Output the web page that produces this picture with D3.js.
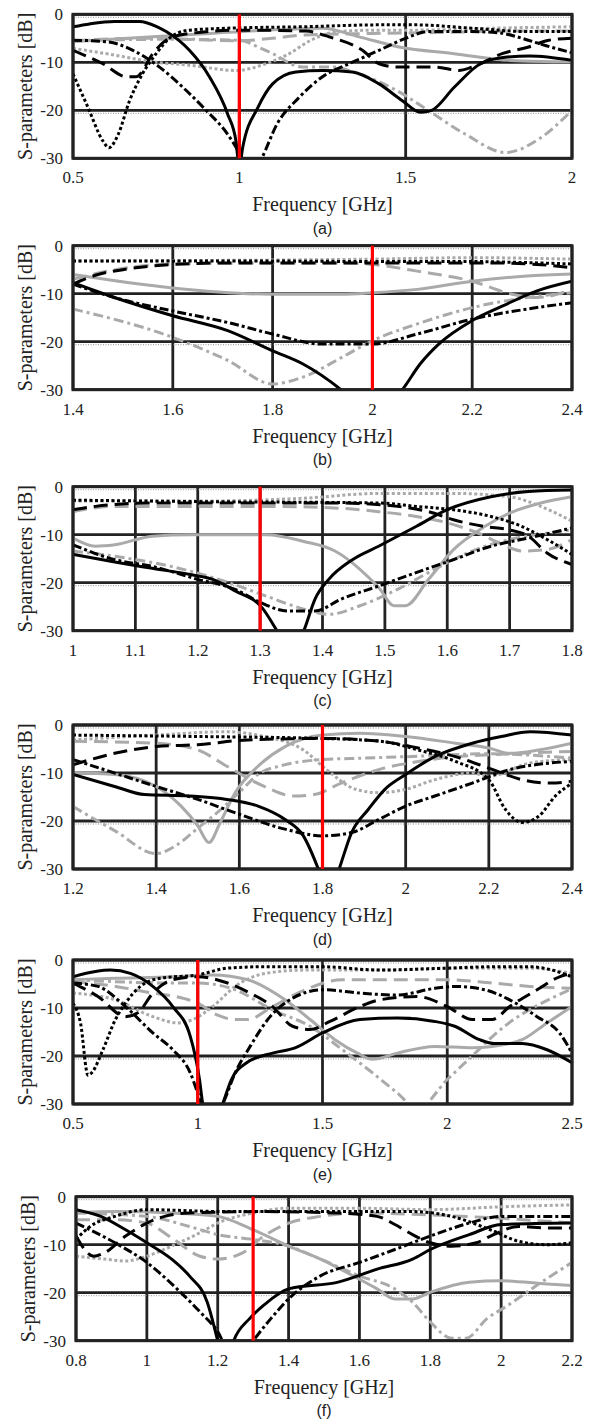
<!DOCTYPE html>
<html>
<head>
<meta charset="utf-8">
<script src="https://cdn.jsdelivr.net/npm/d3@7"></script>
<style>
body { margin: 0; background: #fff; }
</style>
</head>
<body>
<div id="chart"></div>
<script>
// ---- data, frequency in GHz, S-parameters in dB ----
var captions = ['(a)', '(b)', '(c)', '(d)', '(e)', '(f)'];
var xDomains = [[0.5, 2], [1.4, 2.4], [1, 1.8], [1.2, 2.4], [0.5, 2.5], [0.8, 2.2]];
var xTicks = [
    [0.5, 1, 1.5, 2],
    [1.4, 1.6, 1.8, 2, 2.2, 2.4],
    [1, 1.1, 1.2, 1.3, 1.4, 1.5, 1.6, 1.7, 1.8],
    [1.2, 1.4, 1.6, 1.8, 2, 2.2, 2.4],
    [0.5, 1, 1.5, 2, 2.5],
    [0.8, 1, 1.2, 1.4, 1.6, 1.8, 2, 2.2]
];
var yTicks = [0, -10, -20, -30];
var centerFreqs = [1.0, 2.0, 1.3, 1.8, 1.0, 1.3];

// panel (a)
var aBlackSolid = [[0.5,-2.6],[0.55,-2],[0.625,-1.5],[0.7,-1.5],[0.75,-2.5],[0.78,-3.6],[0.85,-7.5],[0.91,-13],[0.965,-20.8],[0.99,-26.5],[1.0,-32],[1.01,-27.8],[1.056,-19.4],[1.1,-14.5],[1.17,-12],[1.25,-11.7],[1.34,-12],[1.42,-14.5],[1.49,-18],[1.544,-20.4],[1.578,-20],[1.646,-15.2],[1.725,-10.3],[1.805,-8.9],[1.873,-8.7],[2.0,-9.6]];
var aBlackDashDot = [[0.5,-5.4],[0.6,-5.7],[0.68,-7.5],[0.76,-11],[0.83,-15.2],[0.9,-20],[0.965,-25],[1.0,-29],[1.03,-34],[1.067,-30],[1.113,-22.9],[1.18,-17.3],[1.25,-13],[1.33,-10.3],[1.42,-7.5],[1.5,-5],[1.567,-3.6],[1.7,-3.6],[1.785,-3.9],[1.85,-5],[1.92,-6.5],[2.0,-8]];
var aBlackDash = [[0.5,-7.5],[0.59,-10.3],[0.66,-13],[0.69,-13],[0.74,-8.2],[0.78,-5.4],[0.85,-4],[1.0,-3.3],[1.2,-3.5],[1.27,-4.7],[1.37,-7.5],[1.42,-10.3],[1.48,-11],[1.59,-11],[1.66,-11.7],[1.7,-11],[1.79,-8.2],[1.87,-6.8],[1.93,-5.4],[2.0,-5]];
var aBlackDot = [[0.5,-12.4],[0.545,-19.4],[0.59,-26.4],[0.608,-27.8],[0.636,-25],[0.67,-18],[0.704,-13],[0.75,-8.2],[0.795,-4.7],[0.85,-3.3],[0.965,-2.9],[1.19,-2.6],[1.42,-2.2],[1.53,-2.2],[1.7,-2.9],[1.87,-3.6],[2.0,-3.6]];
var aGreySolid = [[0.5,-5.7],[0.74,-4.7],[0.91,-4],[1.08,-3.3],[1.25,-2.9],[1.36,-4.7],[1.48,-6.8],[1.646,-8.2],[1.816,-9.6],[2.0,-9.9]];
var aGreyDashDot = [[0.5,-5.5],[0.8,-5.2],[1.0,-5.4],[1.056,-6.8],[1.1,-8.2],[1.19,-11],[1.28,-11],[1.36,-12.4],[1.476,-16],[1.567,-20],[1.68,-25],[1.8,-28.8],[1.9,-26],[2.0,-20]];
var aGreyDash = [[0.5,-5.5],[0.7,-5],[1.0,-5.5],[1.1,-5],[1.2,-4.3],[1.4,-4],[1.6,-3.8],[1.8,-3.5],[2.0,-3.5]];
var aGreyDot = [[0.5,-7.1],[0.625,-8.5],[0.74,-9.9],[0.85,-10.6],[0.99,-11.7],[1.08,-10.3],[1.15,-8.2],[1.215,-5.4],[1.3,-3.6],[1.42,-3.3],[1.53,-3.3],[1.76,-2.9],[2.0,-2.6]];

// panel (b)
var bBlackSolid = [[1.4,-7.7],[1.483,-10.8],[1.6,-14.6],[1.71,-17.7],[1.8,-21.9],[1.86,-24.6],[1.937,-30],[2.0,-36],[2.06,-30],[2.096,-24.6],[2.134,-20.4],[2.2,-15.6],[2.26,-12.6],[2.33,-9.4],[2.4,-7.4]];
var bBlackDashDot = [[1.4,-8],[1.483,-10.8],[1.6,-13.6],[1.71,-16],[1.8,-18.4],[1.9,-20.5],[2.0,-20.5],[2.09,-18.4],[2.2,-15.3],[2.31,-13.2],[2.4,-11.9]];
var bBlackDash = [[1.4,-8],[1.45,-6],[1.5,-5],[1.6,-3.9],[1.71,-3.6],[1.94,-3.6],[2.1,-3.6],[2.24,-3.6],[2.33,-3.9],[2.4,-4.6]];
var bBlackDot = [[1.4,-3.2],[1.6,-3.2],[1.8,-3.2],[2.0,-3.3],[2.2,-3.3],[2.3,-3.5],[2.4,-3.8]];
var bGreySolid = [[1.4,-6],[1.6,-8.8],[1.8,-10.1],[1.94,-10.1],[2.0,-9.8],[2.09,-9.1],[2.2,-7.4],[2.31,-6.3],[2.4,-5.9]];
var bGreyDashDot = [[1.4,-13.2],[1.6,-19.1],[1.71,-23.9],[1.8,-28.8],[1.86,-27.4],[1.94,-23.2],[2.0,-19.8],[2.09,-16.3],[2.2,-12.9],[2.31,-10.8],[2.4,-9.8]];
var bGreyDash = [[1.4,-7],[1.47,-5.3],[1.6,-3.8],[1.8,-3.6],[1.95,-3.6],[2.0,-3.9],[2.09,-5.3],[2.2,-7.4],[2.28,-10.1],[2.33,-10.8],[2.4,-9.1]];
var bGreyDot = [[1.4,-3.2],[1.6,-3.1],[1.8,-3],[2.0,-2.8],[2.2,-2.5],[2.4,-2.8]];

// panel (c)
var cBlackSolid = [[1.0,-14.1],[1.067,-15.7],[1.127,-17],[1.188,-18.3],[1.224,-19.3],[1.26,-21.7],[1.303,-25.2],[1.327,-30],[1.35,-35],[1.37,-30],[1.388,-23.4],[1.41,-19.3],[1.448,-15.2],[1.49,-12.4],[1.55,-8.3],[1.6,-4.8],[1.67,-2.1],[1.73,-1],[1.8,-0.7]];
var cBlackDashDot = [[1.0,-12.1],[1.067,-15.2],[1.127,-16.6],[1.2,-19.3],[1.26,-21.4],[1.3,-24.1],[1.345,-25.9],[1.388,-25.9],[1.43,-23.4],[1.49,-20.7],[1.55,-17.9],[1.61,-15.2],[1.67,-12.4],[1.73,-10.7],[1.8,-8.6]];
var cBlackDash = [[1.0,-4.8],[1.036,-4.1],[1.127,-3.4],[1.43,-3.4],[1.52,-4.1],[1.57,-5.2],[1.61,-6.9],[1.66,-8.3],[1.7,-9],[1.73,-10.3],[1.76,-13.8],[1.8,-16.2]];
var cBlackDot = [[1.0,-2.8],[1.2,-3.1],[1.49,-3.4],[1.55,-4.1],[1.61,-4.8],[1.67,-6.2],[1.72,-8.3],[1.76,-11],[1.8,-14.1]];
var cGreySolid = [[1.0,-10.7],[1.036,-12.4],[1.067,-12.1],[1.127,-10.3],[1.19,-10],[1.31,-10],[1.37,-11.4],[1.42,-13.4],[1.46,-17.2],[1.49,-21],[1.515,-24.8],[1.533,-24.8],[1.57,-19.3],[1.61,-13.1],[1.66,-8.3],[1.7,-5.5],[1.75,-3.4],[1.8,-2.1]];
var cGreyDashDot = [[1.0,-13.4],[1.067,-14.5],[1.157,-16.6],[1.25,-20],[1.31,-22.8],[1.37,-25.5],[1.41,-26.6],[1.46,-24.8],[1.52,-21.4],[1.58,-17.2],[1.64,-13.4],[1.7,-11],[1.76,-9.7],[1.8,-9]];
var cGreyDash = [[1.0,-5.2],[1.067,-4.1],[1.31,-4.1],[1.43,-4.5],[1.49,-5.2],[1.55,-6.2],[1.59,-7.2],[1.65,-9.7],[1.69,-12.1],[1.72,-13.4],[1.76,-13.1],[1.8,-11]];
var cGreyDot = [[1.0,-3],[1.2,-3],[1.37,-2.4],[1.49,-1.4],[1.61,-1.4],[1.7,-2.1],[1.75,-4.1],[1.8,-7.2]];

// panel (d)
var dBlackSolid = [[1.2,-10.3],[1.3,-12.8],[1.372,-14.5],[1.48,-14.8],[1.57,-15.5],[1.645,-16.9],[1.71,-19.7],[1.754,-23.1],[1.79,-30],[1.815,-36],[1.84,-30],[1.87,-22.4],[1.91,-17.6],[1.95,-13.4],[2.0,-10.3],[2.07,-6.6],[2.16,-3.8],[2.23,-2.4],[2.3,-1.4],[2.4,-2.1]];
var dBlackDashDot = [[1.2,-7.2],[1.3,-10],[1.4,-12.8],[1.5,-15.5],[1.6,-18.6],[1.71,-21.7],[1.8,-23.1],[1.87,-22.4],[1.935,-19.7],[2.0,-16.9],[2.07,-14.8],[2.16,-12.1],[2.25,-9.3],[2.35,-7.9],[2.4,-7.6]];
var dBlackDash = [[1.2,-8.3],[1.3,-5.9],[1.4,-4.5],[1.5,-4.1],[1.62,-3.1],[1.8,-2.8],[1.94,-3.4],[2.03,-4.8],[2.12,-6.6],[2.21,-9.3],[2.28,-11.4],[2.35,-12.1],[2.4,-11.7]];
var dBlackDot = [[1.2,-2.1],[1.5,-2.4],[1.8,-2.8],[1.94,-3.4],[2.03,-5.2],[2.12,-7.6],[2.2,-11.4],[2.24,-17.6],[2.28,-20.3],[2.32,-19],[2.36,-14.8],[2.4,-12.1]];
var dGreySolid = [[1.2,-10],[1.3,-10.3],[1.4,-12.8],[1.46,-16.9],[1.5,-21],[1.527,-24.5],[1.554,-20.3],[1.59,-14.1],[1.645,-8.6],[1.71,-4.5],[1.8,-2.1],[1.89,-1.7],[2.0,-2.4],[2.12,-3.8],[2.2,-4.8],[2.25,-5.9],[2.32,-5.2],[2.4,-3.8]];
var dGreyDashDot = [[1.2,-17],[1.3,-22],[1.4,-26.8],[1.45,-25],[1.5,-21.5],[1.55,-18],[1.6,-14],[1.65,-10],[1.7,-8.5],[1.8,-7.2],[1.9,-6.9],[2.0,-6.6],[2.2,-6],[2.4,-6.9]];
var dGreyDash = [[1.2,-3.4],[1.4,-3.8],[1.5,-5.2],[1.57,-8.6],[1.66,-12.8],[1.73,-14.8],[1.78,-14.5],[1.845,-12.1],[1.935,-9.3],[2.03,-7.6],[2.12,-6.6],[2.2,-6.2],[2.4,-5.5]];
var dGreyDot = [[1.2,-3.1],[1.4,-2.1],[1.57,-1.4],[1.66,-2.4],[1.754,-5.2],[1.81,-9.3],[1.88,-13.4],[1.935,-14.1],[2.0,-13.4],[2.07,-11.4],[2.16,-10],[2.2,-10.7],[2.3,-7.9],[2.4,-7.2]];

// panel (e)
var eBlackSolid = [[0.5,-3.5],[0.59,-2.4],[0.65,-2.1],[0.73,-2.8],[0.82,-5.5],[0.9,-9.7],[0.97,-15.9],[1.007,-24.9],[1.02,-30],[1.06,-36],[1.1,-30],[1.135,-24.9],[1.196,-21.4],[1.3,-19.4],[1.39,-18.3],[1.5,-15.2],[1.65,-12.4],[1.8,-12.1],[1.95,-12.8],[2.03,-13.8],[2.13,-16.6],[2.19,-17.4],[2.3,-17.4],[2.4,-18.7],[2.5,-21.4]];
var eBlackDashDot = [[0.5,-4.8],[0.6,-5.5],[0.71,-9.7],[0.82,-15.2],[0.9,-18.7],[0.97,-23.5],[1.0,-27.7],[1.05,-34],[1.1,-30],[1.15,-23.5],[1.21,-18],[1.29,-11.8],[1.36,-8.6],[1.5,-6.2],[1.65,-6.9],[1.8,-7.3],[1.95,-5.9],[2.03,-5.5],[2.15,-6.2],[2.25,-8.3],[2.36,-11.8],[2.45,-15.2],[2.5,-19.4]];
var eBlackDash = [[0.5,-4.8],[0.6,-7.6],[0.71,-11.8],[0.76,-11],[0.82,-6.9],[0.9,-4.1],[1.0,-3.5],[1.12,-4.8],[1.21,-6.9],[1.3,-9.7],[1.38,-13.8],[1.45,-14.5],[1.53,-12.8],[1.65,-9.7],[1.73,-8.3],[1.88,-7.6],[2.0,-9.7],[2.1,-12.4],[2.18,-12.4],[2.25,-9.7],[2.36,-6.2],[2.45,-3.5],[2.5,-2.8]];
var eBlackDot = [[0.5,-9],[0.53,-13.1],[0.56,-24],[0.575,-23.5],[0.62,-18.7],[0.67,-12.4],[0.71,-9],[0.77,-5.5],[0.85,-3.8],[1.0,-3.1],[1.12,-1.7],[1.27,-1.4],[1.5,-1.4],[1.73,-2.1],[2.0,-1.7],[2.18,-1.4],[2.33,-1.4],[2.42,-2.1],[2.5,-3.5]];
var eGreySolid = [[0.5,-4.1],[0.67,-3.8],[0.9,-3.5],[1.06,-3.1],[1.2,-4.1],[1.35,-8.3],[1.45,-12.4],[1.55,-16.6],[1.64,-19.4],[1.7,-20.7],[1.8,-19.4],[1.95,-18],[2.1,-18.3],[2.18,-18],[2.3,-16.6],[2.4,-13.1],[2.5,-9.7]];
var eGreyDashDot = [[0.5,-4.1],[0.9,-4.8],[1.0,-4.8],[1.15,-6.2],[1.3,-10.4],[1.45,-13.8],[1.58,-18.7],[1.7,-23.5],[1.8,-27.7],[1.88,-31],[2.0,-24.9],[2.1,-20],[2.18,-16],[2.25,-13],[2.36,-9.5],[2.5,-6]];
var eGreyDash = [[0.5,-4.5],[0.67,-5.5],[0.82,-6.9],[0.91,-7.6],[1.0,-9],[1.08,-11.5],[1.15,-12.4],[1.2,-12.4],[1.3,-9.7],[1.43,-6.2],[1.58,-4.1],[1.73,-4.1],[2.0,-4.1],[2.18,-4.8],[2.33,-5.5],[2.5,-5.9]];
var eGreyDot = [[0.5,-6.9],[0.67,-8.3],[0.82,-11.8],[0.92,-13.1],[0.98,-12.4],[1.06,-9.7],[1.15,-5.5],[1.27,-2.8],[1.43,-2.1],[1.73,-2.1],[2.0,-1.7],[2.33,-1.7],[2.5,-2.8]];

// panel (f)
var fBlackSolid = [[0.8,-2.7],[0.87,-4.1],[0.94,-6.9],[1.0,-9.6],[1.07,-13],[1.12,-16.5],[1.17,-21.9],[1.2,-30],[1.22,-36],[1.245,-30],[1.29,-25.4],[1.33,-22.6],[1.4,-19.2],[1.54,-17.8],[1.65,-15.1],[1.75,-13],[1.8,-11],[1.91,-7.9],[2.0,-5.8],[2.2,-5.5]];
var fBlackDashDot = [[0.8,-5.5],[0.91,-9.6],[1.0,-13.7],[1.085,-19.2],[1.15,-24],[1.2,-28.1],[1.25,-35],[1.3,-30],[1.35,-25.4],[1.4,-21.3],[1.49,-16.5],[1.6,-13.7],[1.7,-11],[1.8,-8.2],[1.91,-5.5],[2.0,-4.1],[2.2,-4.1]];
var fBlackDash = [[0.8,-8.2],[0.85,-12.4],[0.88,-11.7],[0.94,-8.2],[1.0,-5.5],[1.05,-4.1],[1.12,-3.4],[1.33,-3.1],[1.54,-3.4],[1.65,-4.1],[1.7,-5.8],[1.75,-7.9],[1.8,-9.6],[1.86,-10.3],[1.93,-9.6],[1.97,-8.2],[2.05,-6.2],[2.13,-6.5],[2.2,-6.5]];
var fBlackDot = [[0.8,-8.9],[0.84,-6.2],[0.91,-4.1],[1.0,-2.7],[1.22,-3.1],[1.54,-3.1],[1.75,-3.1],[1.86,-4.1],[1.97,-6.9],[2.05,-9.3],[2.13,-10],[2.2,-9.6]];
var fGreySolid = [[0.8,-3.4],[0.91,-3.1],[1.07,-3.4],[1.2,-4.1],[1.3,-6.9],[1.4,-10.3],[1.49,-13],[1.6,-17.2],[1.65,-19.2],[1.7,-21.3],[1.75,-21.3],[1.8,-19.9],[1.91,-17.8],[2.0,-17.5],[2.13,-18.2],[2.2,-18.5]];
var fGreyDashDot = [[0.8,-3.4],[1.0,-4.1],[1.12,-6.2],[1.2,-7.9],[1.3,-8.9],[1.4,-10.3],[1.49,-13],[1.6,-16.5],[1.7,-19.2],[1.75,-22],[1.8,-26.1],[1.86,-29.5],[1.9,-29.5],[1.96,-25.4],[2.02,-22.6],[2.1,-18.5],[2.2,-13.7]];
var fGreyDash = [[0.8,-4.8],[0.91,-4.8],[1.0,-5.5],[1.07,-8.6],[1.15,-12.4],[1.2,-13],[1.27,-11.7],[1.33,-8.2],[1.4,-5.5],[1.49,-4.1],[1.6,-3.4],[1.8,-3.8],[2.0,-4.5],[2.2,-5.5]];
var fGreyDot = [[0.8,-12.4],[0.88,-13],[0.94,-13.4],[1.0,-12.4],[1.07,-10.3],[1.15,-7.5],[1.2,-5.5],[1.3,-3.4],[1.4,-2.4],[1.6,-2.4],[1.8,-2.7],[2.0,-2.1],[2.2,-1.7]];

var panelSeries = [
    [aGreyDot, aGreyDash, aGreyDashDot, aGreySolid, aBlackDot, aBlackDash, aBlackDashDot, aBlackSolid],
    [bGreyDot, bGreyDash, bGreyDashDot, bGreySolid, bBlackDot, bBlackDash, bBlackDashDot, bBlackSolid],
    [cGreyDot, cGreyDash, cGreyDashDot, cGreySolid, cBlackDot, cBlackDash, cBlackDashDot, cBlackSolid],
    [dGreyDot, dGreyDash, dGreyDashDot, dGreySolid, dBlackDot, dBlackDash, dBlackDashDot, dBlackSolid],
    [eGreyDot, eGreyDash, eGreyDashDot, eGreySolid, eBlackDot, eBlackDash, eBlackDashDot, eBlackSolid],
    [fGreyDot, fGreyDash, fGreyDashDot, fGreySolid, fBlackDot, fBlackDash, fBlackDashDot, fBlackSolid]
];

// ---- styles, same order as the series above ----
var grey = '#aaaaaa';
var lineStyles = [
    { color: grey, dash: '3,2.5' },
    { color: grey, dash: '14,7' },
    { color: grey, dash: '10,4,3,4' },
    { color: grey, dash: null },
    { color: '#000', dash: '3,2.5' },
    { color: '#000', dash: '14,7' },
    { color: '#000', dash: '9,3,3,3' },
    { color: '#000', dash: null }
];

var serif = '"Liberation Serif", "Times New Roman", Times, serif';
var sans = '"Liberation Sans", Arial, Helvetica, sans-serif';

// ---- layout ----
var width = 593, height = 1420;
var panelTops = [14.3, 245.7, 486.7, 725, 960, 1196.7];
var panelLefts = [73, 73, 73, 73, 73, 76];
var plotRight = 572;
var plotH = 144;

var svg = d3.select('#chart')
    .append('svg')
    .attr('width', width)
    .attr('height', height);

panelSeries.forEach(function (series, i) {
    var top = panelTops[i];
    var left = panelLefts[i];
    var bottom = top + plotH;

    var x = d3.scaleLinear().domain(xDomains[i]).range([left, plotRight]);
    var y = d3.scaleLinear().domain([-30, 0]).range([bottom, top]);

    var g = svg.append('g').attr('class', 'panel');

    g.append('clipPath')
        .attr('id', 'clip' + i)
        .append('rect')
        .attr('x', left)
        .attr('y', top)
        .attr('width', plotRight - left)
        .attr('height', plotH);

    // grid
    g.selectAll('.vgrid')
        .data(xTicks[i])
        .enter().append('line')
        .attr('x1', function (d) { return x(d); })
        .attr('x2', function (d) { return x(d); })
        .attr('y1', top)
        .attr('y2', bottom)
        .attr('stroke', '#222')
        .attr('stroke-width', 2.8);

    g.selectAll('.hgrid')
        .data(yTicks)
        .enter().append('line')
        .attr('x1', left)
        .attr('x2', plotRight)
        .attr('y1', function (d) { return y(d); })
        .attr('y2', function (d) { return y(d); })
        .attr('stroke', '#222')
        .attr('stroke-width', 2.8);

    // thin dotted minor lines just inside the frame
    g.selectAll('.minor')
        .data([0, -20])
        .enter().append('line')
        .attr('x1', left)
        .attr('x2', plotRight)
        .attr('y1', function (d) { return y(d) + 3; })
        .attr('y2', function (d) { return y(d) + 3; })
        .attr('stroke', '#777')
        .attr('stroke-width', 0.8)
        .attr('stroke-dasharray', '1,1.5');

    // curves
    var line = d3.line()
        .x(function (d) { return x(d[0]); })
        .y(function (d) { return y(d[1]); })
        .curve(d3.curveMonotoneX);

    g.append('g')
        .attr('clip-path', 'url(#clip' + i + ')')
        .selectAll('path')
        .data(series)
        .enter().append('path')
        .attr('d', line)
        .attr('fill', 'none')
        .attr('stroke', function (d, k) { return lineStyles[k].color; })
        .attr('stroke-width', 3)
        .attr('stroke-dasharray', function (d, k) { return lineStyles[k].dash; });

    // frame
    g.append('rect')
        .attr('x', left)
        .attr('y', top)
        .attr('width', plotRight - left)
        .attr('height', plotH)
        .attr('fill', 'none')
        .attr('stroke', '#222')
        .attr('stroke-width', 3);

    // center frequency marker
    g.append('line')
        .attr('x1', x(centerFreqs[i]))
        .attr('x2', x(centerFreqs[i]))
        .attr('y1', top)
        .attr('y2', bottom)
        .attr('stroke', '#ff0000')
        .attr('stroke-width', 3.2);

    // tick labels
    g.selectAll('.ylab')
        .data(yTicks)
        .enter().append('text')
        .attr('x', left - 10)
        .attr('y', function (d) { return y(d); })
        .attr('dy', '0.35em')
        .attr('text-anchor', 'end')
        .attr('font-family', serif)
        .attr('font-size', 17)
        .attr('fill', '#222')
        .text(function (d) { return String(d); });

    g.selectAll('.xlab')
        .data(xTicks[i])
        .enter().append('text')
        .attr('x', function (d) { return x(d); })
        .attr('y', bottom + 19)
        .attr('dy', '0.35em')
        .attr('text-anchor', 'middle')
        .attr('font-family', serif)
        .attr('font-size', 17)
        .attr('fill', '#222')
        .text(function (d) { return String(d); });

    // axis titles
    g.append('text')
        .attr('transform', 'translate(' + (left - 48) + ',' + ((top + bottom) / 2) + ') rotate(-90)')
        .attr('dy', '0.35em')
        .attr('text-anchor', 'middle')
        .attr('font-family', serif)
        .attr('font-size', 20)
        .attr('fill', '#222')
        .text('S-parameters [dB]');

    g.append('text')
        .attr('x', (left + plotRight) / 2)
        .attr('y', bottom + 46)
        .attr('dy', '0.35em')
        .attr('text-anchor', 'middle')
        .attr('font-family', serif)
        .attr('font-size', 20)
        .attr('fill', '#222')
        .text('Frequency [GHz]');

    g.append('text')
        .attr('x', (left + plotRight) / 2)
        .attr('y', bottom + 70)
        .attr('dy', '0.35em')
        .attr('text-anchor', 'middle')
        .attr('font-family', sans)
        .attr('font-size', 16)
        .attr('fill', '#222')
        .text(captions[i]);
});
</script>
</body>
</html>
